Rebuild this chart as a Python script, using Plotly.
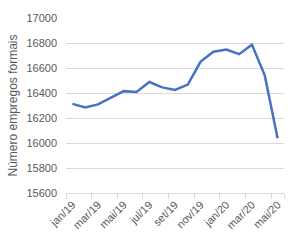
import plotly.graph_objects as go

months = ["jan/19", "fev/19", "mar/19", "abr/19", "mai/19", "jun/19", "jul/19", "ago/19",
          "set/19", "out/19", "nov/19", "dez/19", "jan/20", "fev/20", "mar/20", "abr/20", "mai/20"]
empregos = [16313, 16285, 16309, 16360, 16415, 16409, 16488, 16445, 16425, 16467,
            16651, 16730, 16748, 16711, 16787, 16541, 16039]
y_ticks = [15600, 15800, 16000, 16200, 16400, 16600, 16800, 17000]

x_idx = list(range(len(months)))
label_idx = x_idx[::2]
label_text = months[::2]
boundary_idx = [i - 0.5 for i in x_idx[::2]]

fig = go.Figure()
fig.add_trace(go.Scatter(x=x_idx, y=empregos, mode="lines",
                         line=dict(color="#4472C4", width=2.5), hoverinfo="skip"))

font = "Liberation Sans, Arial, sans-serif"
fig.update_layout(
    width=299, height=247,
    margin=dict(l=64, r=15, t=15, b=54),
    paper_bgcolor="white", plot_bgcolor="white",
    showlegend=False,
    font=dict(family=font, size=10, color="#595959"),
    xaxis=dict(
        range=[-0.5, len(months) - 0.5],
        tickvals=label_idx, ticktext=label_text, tickangle=-45,
        ticks="", showgrid=False, zeroline=False,
        showline=True, linecolor="#D9D9D9", linewidth=1,
        tickfont=dict(size=11, color="#595959"),
        minor=dict(tickvals=boundary_idx + [len(months) - 0.5], ticks="outside", ticklen=5,
                   tickcolor="#D9D9D9", tickwidth=1, showgrid=False),
    ),
    yaxis=dict(
        range=[15600, 17000], tickvals=y_ticks, tickformat="d",
        showgrid=True, gridcolor="#D9D9D9", gridwidth=1,
        zeroline=False, showline=False, ticks="",
        ticklabelstandoff=8,
        tickfont=dict(size=11, color="#595959"),
        title=dict(text="Número empregos formais", font=dict(size=12, color="#595959"), standoff=6),
    ),
)
fig.write_html("out.html")
